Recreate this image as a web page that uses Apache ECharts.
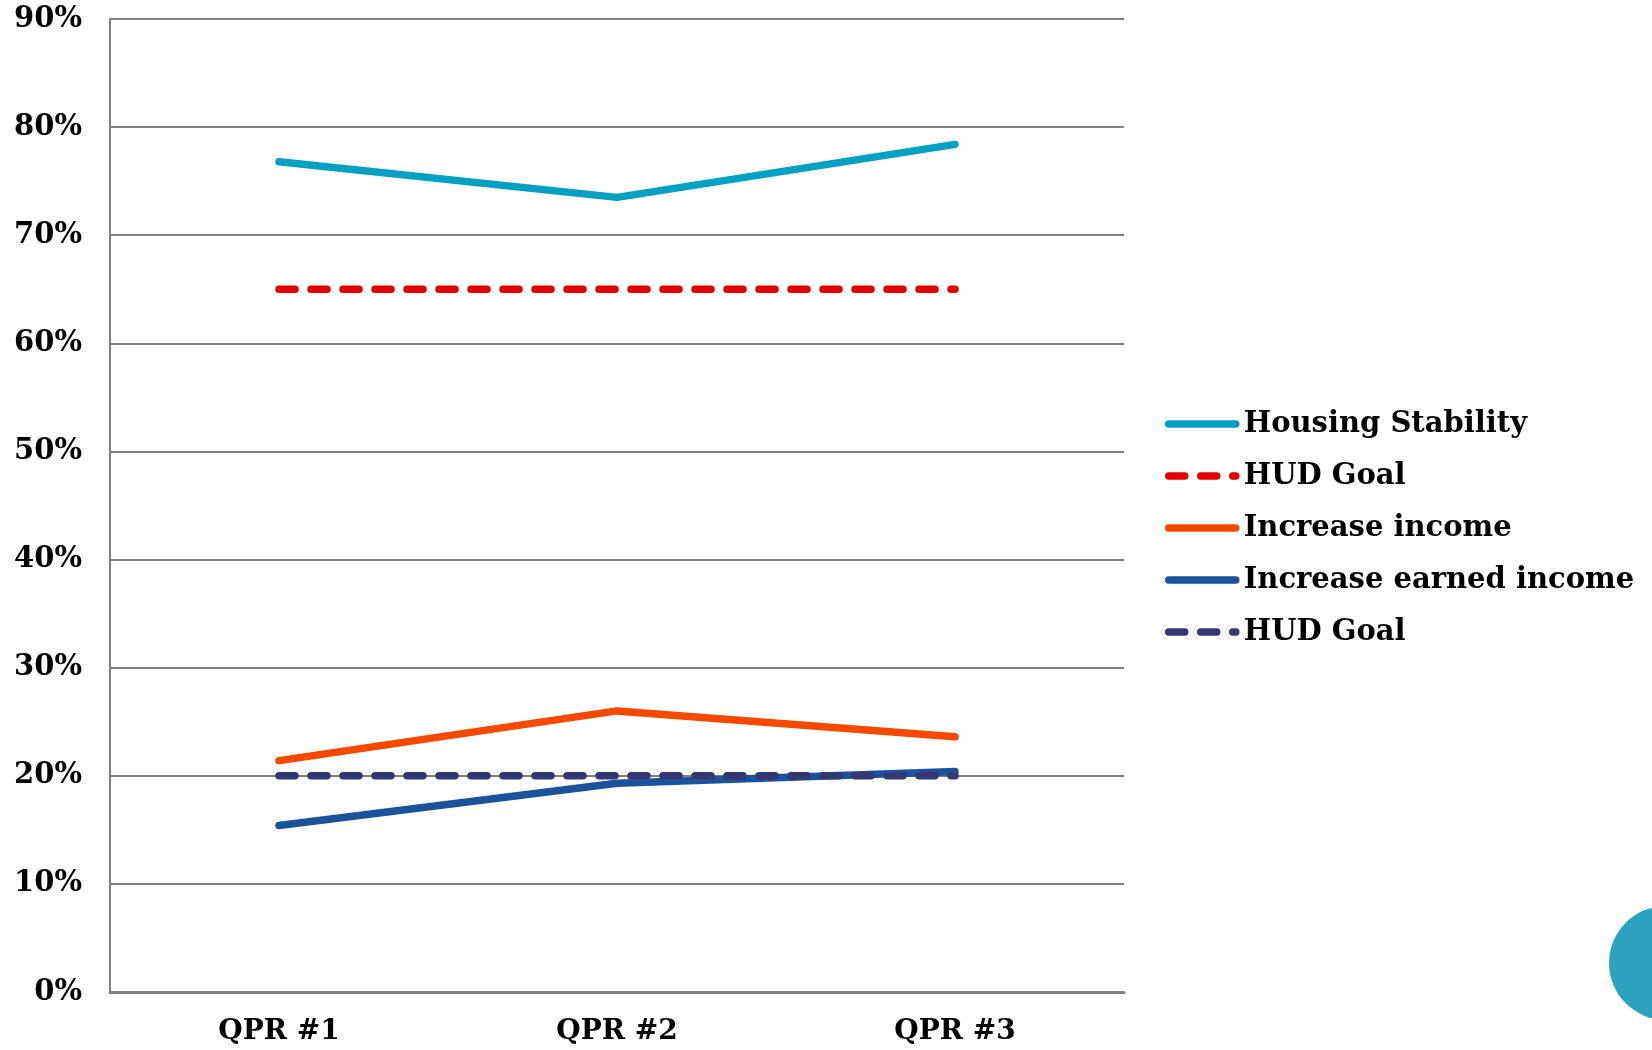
<!DOCTYPE html>
<html>
<head>
<meta charset="utf-8">
<script src="https://cdn.jsdelivr.net/npm/echarts@6/dist/echarts.min.js"></script>
<style>
  html, body { margin: 0; padding: 0; background: #fff; }
  #chart { width: 1652px; height: 1050px; }
</style>
</head>
<body>
<div id="chart"></div>
<script>
const categories = ['QPR #1', 'QPR #2', 'QPR #3'];
const housingStability = [76.8, 73.5, 78.4];
const hudGoalHousing = [65, 65, 65];
const increaseIncome = [21.4, 26.0, 23.6];
const increaseEarned = [15.4, 19.3, 20.4];
const hudGoalIncome = [20, 20, 20];

const FONT = 'Georgia, "DejaVu Serif", serif';

const chart = echarts.init(document.getElementById('chart'));

function lineSeries(name, data, color, dashed) {
  return {
    name: name,
    type: 'line',
    data: data,
    symbol: 'none',
    silent: true,
    lineStyle: {
      color: color,
      width: 7.5,
      type: dashed ? [16, 16] : 'solid',
      cap: 'round',
      join: 'round'
    },
    itemStyle: { color: color }
  };
}

chart.setOption({
  animation: false,
  grid: { left: 110, right: 528, top: 19, bottom: 58 },
  xAxis: {
    type: 'category',
    data: categories,
    boundaryGap: true,
    axisLine: { lineStyle: { color: '#808080', width: 3 } },
    axisTick: { show: false },
    axisLabel: {
      color: '#000',
      fontFamily: FONT,
      fontWeight: 'bold',
      fontSize: 28,
      margin: 26
    }
  },
  yAxis: {
    type: 'value',
    min: 0,
    max: 90,
    interval: 10,
    axisLine: { show: true, lineStyle: { color: '#808080', width: 2 } },
    axisTick: { show: false },
    splitLine: { lineStyle: { color: '#808080', width: 2 } },
    axisLabel: {
      formatter: '{value}%',
      color: '#000',
      fontFamily: FONT,
      fontWeight: 'bold',
      fontSize: 29,
      margin: 28
    }
  },
  legend: {
    orient: 'vertical',
    left: 1160,
    top: 403,
    itemWidth: 67,
    itemHeight: 16,
    itemGap: 20,
    selectedMode: false,
    itemStyle: { opacity: 0 },
    lineStyle: { width: 7.5, cap: 'round' },
    textStyle: {
      color: '#000',
      fontFamily: FONT,
      fontWeight: 'bold',
      fontSize: 29,
      lineHeight: 32,
      padding: [0, 0, 0, 3]
    },
    data: ['Housing Stability', 'HUD Goal', 'Increase income', 'Increase earned income', 'HUD Goal ']
  },
  series: [
    lineSeries('Housing Stability', housingStability, '#05A0C4', false),
    lineSeries('HUD Goal', hudGoalHousing, '#E30000', true),
    lineSeries('Increase income', increaseIncome, '#F54900', false),
    lineSeries('Increase earned income', increaseEarned, '#1B529C', false),
    lineSeries('HUD Goal ', hudGoalIncome, '#333872', true)
  ],
  graphic: [{
    type: 'circle',
    shape: { cx: 1666, cy: 963, r: 57 },
    style: { fill: '#2DA3C0' },
    silent: true
  }]
});
</script>
</body>
</html>
